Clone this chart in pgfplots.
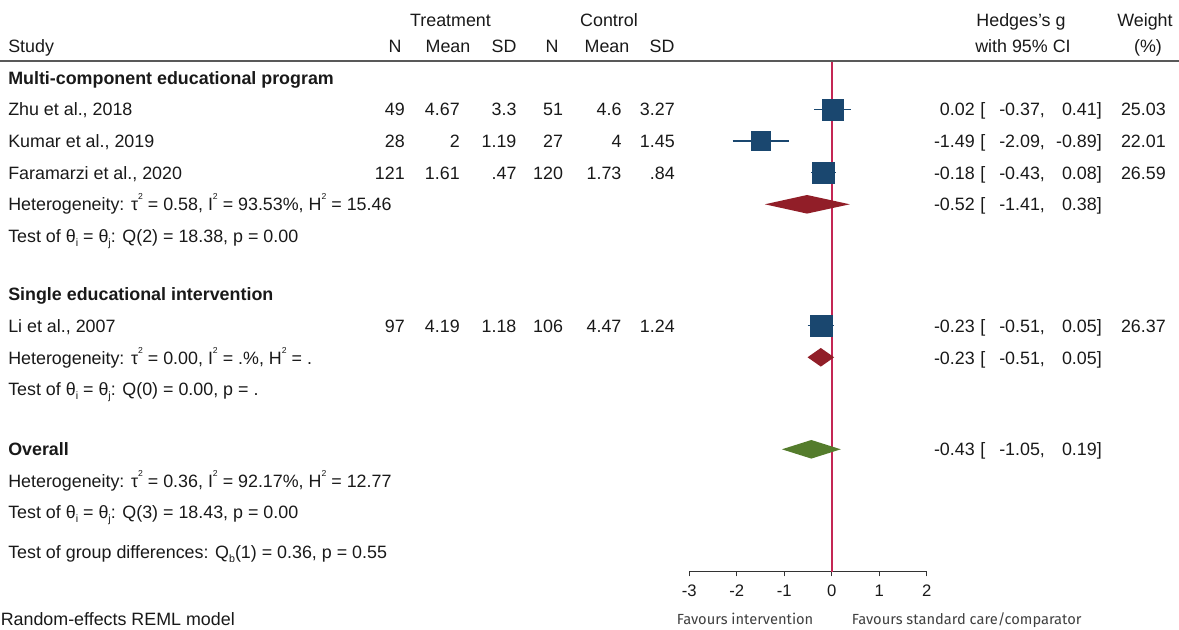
\documentclass[border=0pt]{standalone}
\usepackage{fontspec}
\setmainfont{Liberation Sans}
\newfontfamily\fira{Fira Sans}
\usepackage{pgfplots}
\pgfplotsset{compat=1.18}
\definecolor{navy}{RGB}{26,71,111}
\definecolor{maroonD}{RGB}{145,30,40}
\definecolor{greenD}{RGB}{84,124,44}
\definecolor{refline}{RGB}{196,38,84}
\definecolor{txt}{RGB}{25,25,25}
\newcommand{\sq}{\raisebox{0.6em}{\fontsize{6.5}{6.5}\selectfont 2}}
\newcommand{\sub}[1]{\raisebox{-0.22em}{\fontsize{8}{8}\selectfont #1}}
\begin{document}
\begin{tikzpicture}
\begin{axis}[
  at={(516.975pt,-428.775pt)}, anchor=south west,
  scale only axis, width=178.05pt, height=383.025pt,
  xmin=-3, xmax=2, ymin=-571.7, ymax=-61,
  axis x line=bottom, axis y line=none,
  axis line style={-, line width=0.7pt, color=black!80},
  xtick={-3,-2,-1,0,1,2}, xticklabels={-3,-2,-1,0,1,2},
  tick align=outside, major tick length=3.6pt,
  tick style={line width=0.7pt, color=black!80},
  x tick label style={font=\fontsize{12.5}{14}\selectfont, text=txt, yshift=-3pt},
  clip=false,
]
% reference line at 0
\addplot[draw=refline, line width=1.3pt, mark=none] coordinates {(0,-61) (0,-571.7)};
% confidence intervals
\addplot[draw=navy, line width=0.9pt, mark=none] coordinates {(-0.37,-109.5) (0.41,-109.5)};
\addplot[draw=navy, line width=0.9pt, mark=none] coordinates {(-2.09,-141) (-0.89,-141)};
\addplot[draw=navy, line width=0.9pt, mark=none] coordinates {(-0.43,-172.7) (0.08,-172.7)};
\addplot[draw=navy, line width=0.9pt, mark=none] coordinates {(-0.51,-325.7) (0.05,-325.7)};
% study estimates
\addplot[navy, only marks, mark=square*, mark size=7.76pt, mark options={line width=0.2pt}] coordinates {(0.02,-109.5)};
\addplot[navy, only marks, mark=square*, mark size=7.13pt, mark options={line width=0.2pt}] coordinates {(-1.49,-141)};
\addplot[navy, only marks, mark=square*, mark size=8.14pt, mark options={line width=0.2pt}] coordinates {(-0.18,-172.7)};
\addplot[navy, only marks, mark=square*, mark size=8.2pt, mark options={line width=0.2pt}] coordinates {(-0.23,-325.7)};
% pooled diamonds
\addplot[fill=maroonD, draw=none] coordinates {(-1.41,-204.3) (-0.52,-195.0) (0.38,-204.3) (-0.52,-213.6) (-1.41,-204.3)};
\addplot[fill=maroonD, draw=none] coordinates {(-0.51,-357.3) (-0.23,-348.0) (0.05,-357.3) (-0.23,-366.6) (-0.51,-357.3)};
\addplot[fill=greenD, draw=none] coordinates {(-1.05,-449.3) (-0.43,-440.0) (0.19,-449.3) (-0.43,-458.6) (-1.05,-449.3)};
\end{axis}
\begin{scope}[x=0.75pt, y=-0.75pt,
  every node/.style={inner sep=0pt, text=txt, font=\fontsize{13.4}{16}\selectfont}]
% header rule
\draw[line width=1.5pt, color=black!65] (0,61) -- (1179,61);
% headers
\node[anchor=base] at (450.5,27) {Treatment};
\node[anchor=base] at (609,27) {Control};
\node[anchor=base] at (1021,27) {Hedges's g};
\node[anchor=base] at (1145,27) {Weight};
\node[anchor=base west] at (8,53) {Study};
\node[anchor=base] at (395,53) {N};
\node[anchor=base] at (448,53) {Mean};
\node[anchor=base] at (504,53) {SD};
\node[anchor=base] at (552,53) {N};
\node[anchor=base] at (607,53) {Mean};
\node[anchor=base] at (662,53) {SD};
\node[anchor=base] at (1023,53) {with 95\% CI};
\node[anchor=base] at (1148,53) {(\%)};
% group 1
\node[anchor=base west, font=\fontsize{13.4}{16}\selectfont\bfseries] at (8,84.4) {Multi-component educational program};
% Zhu
\node[anchor=base west] at (8,115.9) {Zhu et al., 2018};
\node[anchor=base east] at (405,115.9) {49};
\node[anchor=base east] at (460,115.9) {4.67};
\node[anchor=base east] at (516.7,115.9) {3.3};
\node[anchor=base east] at (563.3,115.9) {51};
\node[anchor=base east] at (621.7,115.9) {4.6};
\node[anchor=base east] at (675,115.9) {3.27};
\node[anchor=base east] at (975,115.9) {0.02};
\node[anchor=base west] at (980,115.9) {[};
\node[anchor=base west] at (999,115.9) {-0.37,};
\node[anchor=base east] at (1102,115.9) {0.41]};
\node[anchor=base east] at (1166,115.9) {25.03};
% Kumar
\node[anchor=base west] at (8,147.4) {Kumar et al., 2019};
\node[anchor=base east] at (405,147.4) {28};
\node[anchor=base east] at (460,147.4) {2};
\node[anchor=base east] at (516.7,147.4) {1.19};
\node[anchor=base east] at (563.3,147.4) {27};
\node[anchor=base east] at (621.7,147.4) {4};
\node[anchor=base east] at (675,147.4) {1.45};
\node[anchor=base east] at (975,147.4) {-1.49};
\node[anchor=base west] at (980,147.4) {[};
\node[anchor=base west] at (999,147.4) {-2.09,};
\node[anchor=base east] at (1102,147.4) {-0.89]};
\node[anchor=base east] at (1166,147.4) {22.01};
% Faramarzi
\node[anchor=base west] at (8,179.1) {Faramarzi et al., 2020};
\node[anchor=base east] at (405,179.1) {121};
\node[anchor=base east] at (460,179.1) {1.61};
\node[anchor=base east] at (516.7,179.1) {.47};
\node[anchor=base east] at (563.3,179.1) {120};
\node[anchor=base east] at (621.7,179.1) {1.73};
\node[anchor=base east] at (675,179.1) {.84};
\node[anchor=base east] at (975,179.1) {-0.18};
\node[anchor=base west] at (980,179.1) {[};
\node[anchor=base west] at (999,179.1) {-0.43,};
\node[anchor=base east] at (1102,179.1) {0.08]};
\node[anchor=base east] at (1166,179.1) {26.59};
% heterogeneity 1
\node[anchor=base west] at (8,210.7) {Heterogeneity: τ\sq{} = 0.58, I\sq{} = 93.53\%, H\sq{} = 15.46};
\node[anchor=base east] at (975,210.7) {-0.52};
\node[anchor=base west] at (980,210.7) {[};
\node[anchor=base west] at (999,210.7) {-1.41,};
\node[anchor=base east] at (1102,210.7) {0.38]};
\node[anchor=base west] at (8,242.4) {Test of θ\sub{i} = θ\sub{j}: Q(2) = 18.38, p = 0.00};
% group 2
\node[anchor=base west, font=\fontsize{13.4}{16}\selectfont\bfseries] at (8,300.9) {Single educational intervention};
\node[anchor=base west] at (8,332.1) {Li et al., 2007};
\node[anchor=base east] at (405,332.1) {97};
\node[anchor=base east] at (460,332.1) {4.19};
\node[anchor=base east] at (516.7,332.1) {1.18};
\node[anchor=base east] at (563.3,332.1) {106};
\node[anchor=base east] at (621.7,332.1) {4.47};
\node[anchor=base east] at (675,332.1) {1.24};
\node[anchor=base east] at (975,332.1) {-0.23};
\node[anchor=base west] at (980,332.1) {[};
\node[anchor=base west] at (999,332.1) {-0.51,};
\node[anchor=base east] at (1102,332.1) {0.05]};
\node[anchor=base east] at (1166,332.1) {26.37};
\node[anchor=base west] at (8,364.2) {Heterogeneity: τ\sq{} = 0.00, I\sq{} = .\%, H\sq{} = .};
\node[anchor=base east] at (975,364.2) {-0.23};
\node[anchor=base west] at (980,364.2) {[};
\node[anchor=base west] at (999,364.2) {-0.51,};
\node[anchor=base east] at (1102,364.2) {0.05]};
\node[anchor=base west] at (8,396) {Test of θ\sub{i} = θ\sub{j}: Q(0) = 0.00, p = .};
% overall
\node[anchor=base west, font=\fontsize{13.4}{16}\selectfont\bfseries] at (8,456) {Overall};
\node[anchor=base east] at (975,456) {-0.43};
\node[anchor=base west] at (980,456) {[};
\node[anchor=base west] at (999,456) {-1.05,};
\node[anchor=base east] at (1102,456) {0.19]};
\node[anchor=base west] at (8,487.4) {Heterogeneity: τ\sq{} = 0.36, I\sq{} = 92.17\%, H\sq{} = 12.77};
\node[anchor=base west] at (8,518.4) {Test of θ\sub{i} = θ\sub{j}: Q(3) = 18.43, p = 0.00};
\node[anchor=base west] at (8,558.3) {Test of group differences: Q\sub{b}(1) = 0.36, p = 0.55};
\node[anchor=base west] at (0.5,626) {Random-effects REML model};
% favours
\node[anchor=base west, font=\fira\fontsize{11}{13}\selectfont, text=black!75] at (676.7,625) {Favours intervention};
\node[anchor=base west, font=\fira\fontsize{11}{13}\selectfont, text=black!75] at (851.7,625) {Favours standard care/comparator};
\pgfresetboundingbox
\path[use as bounding box] (0,0) rectangle (1179,630);
\end{scope}
\end{tikzpicture}
\end{document}
